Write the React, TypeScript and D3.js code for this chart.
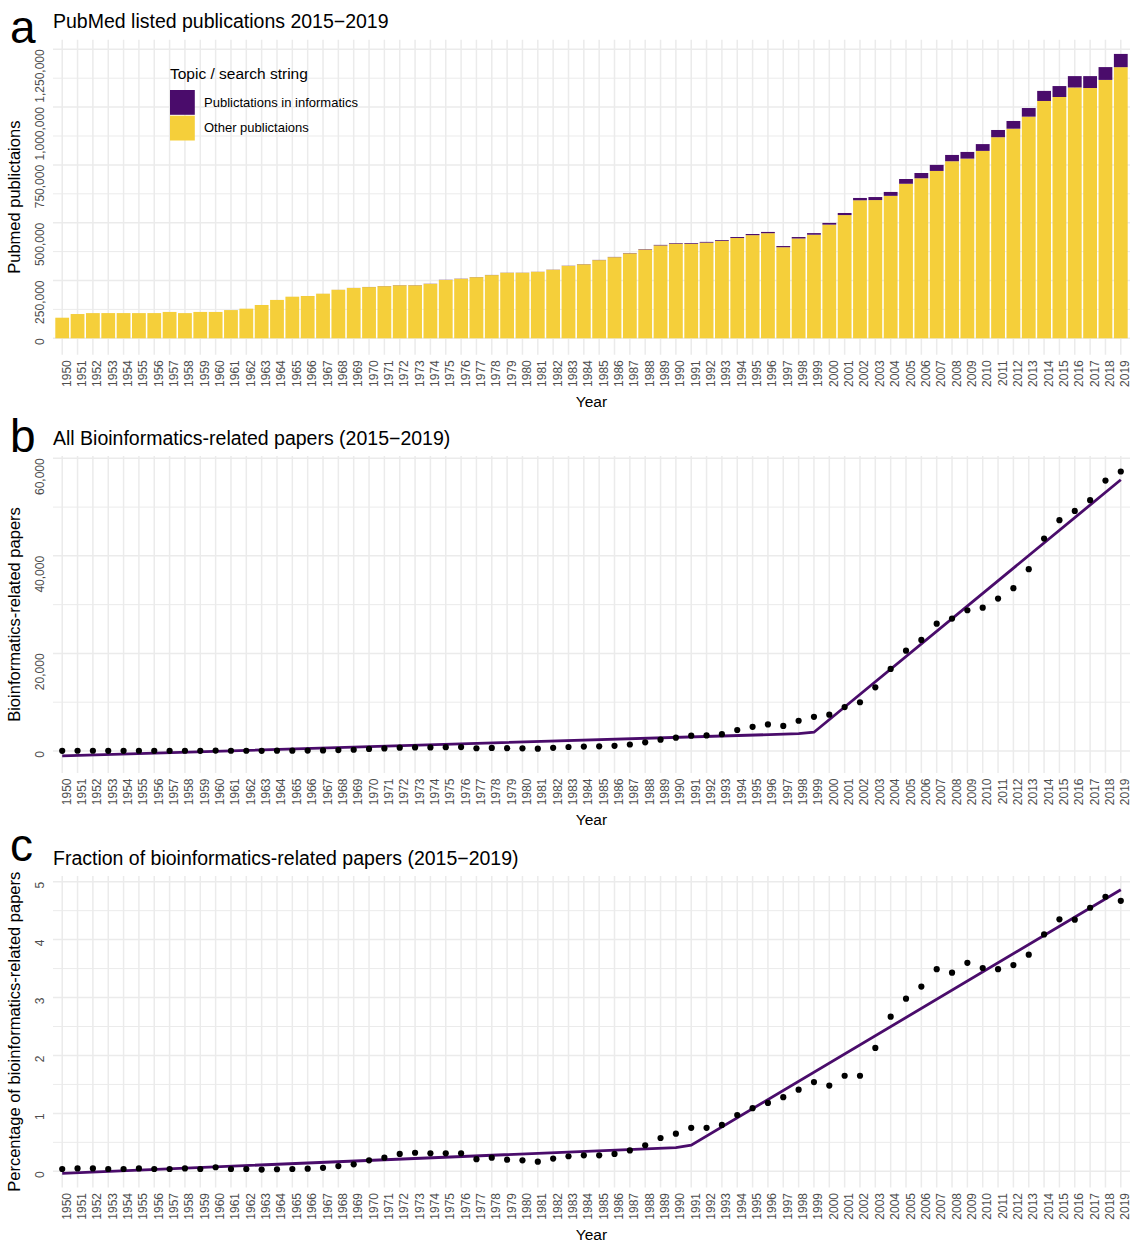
import { useEffect, useRef } from "react";
import * as d3 from "d3";

// years on the x axis (discrete)
const YEARS = [
  1950, 1951, 1952, 1953, 1954, 1955, 1956, 1957, 1958, 1959,
  1960, 1961, 1962, 1963, 1964, 1965, 1966, 1967, 1968, 1969,
  1970, 1971, 1972, 1973, 1974, 1975, 1976, 1977, 1978, 1979,
  1980, 1981, 1982, 1983, 1984, 1985, 1986, 1987, 1988, 1989,
  1990, 1991, 1992, 1993, 1994, 1995, 1996, 1997, 1998, 1999,
  2000, 2001, 2002, 2003, 2004, 2005, 2006, 2007, 2008, 2009,
  2010, 2011, 2012, 2013, 2014, 2015, 2016, 2017, 2018, 2019,
];

// bioinformatics-related papers per year (panel b, also purple part of panel a)
const INFORMATICS = [
  40, 50, 55, 45, 45, 55, 45, 45, 55, 45,
  80, 50, 50, 45, 60, 70, 80, 115, 190, 260,
  420, 530, 690, 740, 730, 780, 800, 560, 640, 570,
  540, 480, 650, 820, 900, 950, 1060, 1330, 1780, 2320,
  2730, 3150, 3200, 3450, 4300, 4950, 5450, 5130, 6200, 7000,
  7450, 9000, 9990, 13060, 16820, 20570, 22770, 26110, 27140, 28850,
  29390, 31240, 33370, 37270, 43540, 47310, 49220, 51420, 55440, 57290,
];

// other PubMed publications per year (yellow part of panel a)
const OTHER = [
  89000, 104900, 108900, 109000, 109000, 108900, 109000, 114000, 108900, 114000,
  113900, 122000, 128000, 144000, 165900, 179900, 182900, 192900, 209800, 217700,
  221600, 225500, 229300, 229300, 235300, 252200, 257200, 264400, 273400, 283400,
  283500, 287500, 296400, 313200, 320100, 338100, 350900, 367700, 384200, 401700,
  409300, 408900, 413800, 421600, 433700, 446100, 454600, 393900, 431800, 448000,
  491600, 533000, 597000, 597900, 616200, 668400, 692200, 723900, 765900, 777200,
  810600, 869800, 906600, 958700, 1026500, 1043700, 1084800, 1082600, 1117600, 1172700,
];

// percentage of bioinformatics-related papers (panel c)
const PERCENT = [
  0.04, 0.05, 0.05, 0.04, 0.04, 0.05, 0.04, 0.04, 0.05, 0.04,
  0.07, 0.04, 0.04, 0.03, 0.035, 0.04, 0.045, 0.06, 0.09, 0.12,
  0.19, 0.235, 0.3, 0.32, 0.31, 0.31, 0.31, 0.21, 0.235, 0.2,
  0.19, 0.166, 0.22, 0.26, 0.275, 0.275, 0.3, 0.36, 0.45, 0.575,
  0.65, 0.75, 0.75, 0.8, 0.97, 1.09, 1.18, 1.28, 1.41, 1.54,
  1.48, 1.65, 1.65, 2.13, 2.67, 2.98, 3.19, 3.49, 3.43, 3.6,
  3.51, 3.49, 3.56, 3.74, 4.09, 4.35, 4.345, 4.55, 4.74, 4.67,
];

// segmented fits (knots)
const FIT_B_YEARS = [1950, 1998, 1999, 2019];
const FIT_B_VALUES = [-1000, 3550, 3850, 55600];
const FIT_C_YEARS = [1950, 1990, 1991, 2019];
const FIT_C_VALUES = [-0.035, 0.41, 0.45, 4.86];

const A_TICKS = [0, 250000, 500000, 750000, 1000000, 1250000];
const A_TICK_LABELS = ["0", "250,000", "500,000", "750,000", "1,000,000", "1,250,000"];
const A_MINOR = [125000, 375000, 625000, 875000, 1125000];
const B_TICKS = [0, 20000, 40000, 60000];
const B_TICK_LABELS = ["0", "20,000", "40,000", "60,000"];
const B_MINOR = [10000, 30000, 50000];
const C_TICKS = [0, 1, 2, 3, 4, 5];
const C_TICK_LABELS = ["0", "1", "2", "3", "4", "5"];
const C_MINOR = [0.5, 1.5, 2.5, 3.5, 4.5];

const LEGEND_LABELS = ["Publictations in informatics", "Other publictaions"];

const FONT = "'Liberation Sans', Arial, Helvetica, sans-serif";
const PURPLE = "#4a0c6b";
const YELLOW = "#f5cf3a";
const GRID = "#ebebeb";
const TICK_COLOR = "#4d4d4d";

export default function App() {
  const svgRef = useRef<SVGSVGElement>(null);

  useEffect(() => {
    if (!svgRef.current) return;
    const svg = d3.select(svgRef.current);
    svg.selectAll("*").remove();

    const width = 1132;
    const height = 1242;
    const left = 53;
    const right = 1130;
    svg.attr("width", width).attr("height", height).attr("viewBox", `0 0 ${width} ${height}`);
    svg.append("rect").attr("width", width).attr("height", height).attr("fill", "#fff");

    const x = d3.scalePoint<number>().domain(YEARS).range([left, right]).padding(0.6);
    const step = x.step();

    function frame(o: {
      top: number;
      bottom: number;
      y: d3.ScaleLinear<number, number>;
      ticks: number[];
      labels: string[];
      minor: number[];
      letter: string;
      letterY: number;
      title: string;
      yTitle: string;
    }) {
      const g = svg.append("g");

      // Grid lines
      g.selectAll("line.minor")
        .data(o.minor)
        .join("line")
        .attr("x1", left)
        .attr("x2", right)
        .attr("y1", (d) => o.y(d))
        .attr("y2", (d) => o.y(d))
        .attr("stroke", GRID)
        .attr("stroke-width", 1);

      g.selectAll("line.major")
        .data(o.ticks)
        .join("line")
        .attr("x1", left)
        .attr("x2", right)
        .attr("y1", (d) => o.y(d))
        .attr("y2", (d) => o.y(d))
        .attr("stroke", GRID)
        .attr("stroke-width", 1.5);

      g.append("g")
        .selectAll("line")
        .data(YEARS)
        .join("line")
        .attr("x1", (d) => x(d)!)
        .attr("x2", (d) => x(d)!)
        .attr("y1", o.top)
        .attr("y2", o.bottom)
        .attr("stroke", GRID)
        .attr("stroke-width", 1.5);

      // Tick labels
      g.append("g")
        .selectAll("text")
        .data(o.ticks)
        .join("text")
        .attr("transform", (d) => `translate(43.5,${o.y(d)}) rotate(-90)`)
        .attr("text-anchor", "end")
        .attr("fill", TICK_COLOR)
        .attr("font-size", "12px")
        .attr("font-family", FONT)
        .text((_, i) => o.labels[i]);

      g.append("g")
        .selectAll("text")
        .data(YEARS)
        .join("text")
        .attr("transform", (d) => `translate(${x(d)! + 8.5},${o.bottom + 5.5}) rotate(-90)`)
        .attr("text-anchor", "end")
        .attr("fill", TICK_COLOR)
        .attr("font-size", "12px")
        .attr("font-family", FONT)
        .text((d) => String(d));

      // Axis titles
      g.append("text")
        .attr("x", (left + right) / 2)
        .attr("y", o.bottom + 52)
        .attr("text-anchor", "middle")
        .attr("font-size", "15.5px")
        .attr("font-family", FONT)
        .text("Year");

      g.append("text")
        .attr("transform", `translate(20,${(o.top + o.bottom) / 2}) rotate(-90)`)
        .attr("text-anchor", "middle")
        .attr("font-size", "16.5px")
        .attr("font-family", FONT)
        .text(o.yTitle);

      // Panel title and tag
      g.append("text")
        .attr("x", left)
        .attr("y", o.top - 11.5)
        .attr("font-size", "19.5px")
        .attr("font-family", FONT)
        .text(o.title);

      g.append("text")
        .attr("x", 10)
        .attr("y", o.letterY)
        .attr("font-size", "46px")
        .attr("font-family", FONT)
        .text(o.letter);
    }

    // ---- panel a: stacked bars
    const yA = d3.scaleLinear().domain([0, 1250000]).range([338.3, 49.3]);
    frame({
      top: 39.7,
      bottom: 354.7,
      y: yA,
      ticks: A_TICKS,
      labels: A_TICK_LABELS,
      minor: A_MINOR,
      letter: "a",
      letterY: 43,
      title: "PubMed listed publications 2015\u22122019",
      yTitle: "Pubmed publictaions",
    });

    const rows = YEARS.map((yr, i) => ({ year: yr, other: OTHER[i], info: INFORMATICS[i] }));
    const stacked = d3.stack<{ year: number; other: number; info: number }>().keys(["other", "info"])(rows);
    const fills = [YELLOW, PURPLE];
    const bw = step * 0.9;

    svg
      .append("g")
      .selectAll("g")
      .data(stacked)
      .join("g")
      .attr("fill", (_, i) => fills[i])
      .selectAll("rect")
      .data((s) => s)
      .join("rect")
      .attr("x", (d) => x(d.data.year)! - bw / 2)
      .attr("width", bw)
      .attr("y", (d) => yA(d[1]))
      .attr("height", (d) => yA(d[0]) - yA(d[1]));

    // Legend
    const lg = svg.append("g").attr("font-family", FONT);
    lg.append("text").attr("x", 170).attr("y", 79).attr("font-size", "15.5px").text("Topic / search string");
    [PURPLE, YELLOW].forEach((c, i) => {
      lg.append("rect")
        .attr("x", 170)
        .attr("y", 90 + i * 25.7)
        .attr("width", 24.8)
        .attr("height", 24.8)
        .attr("fill", c);
      lg.append("text")
        .attr("x", 204)
        .attr("y", 106.5 + i * 25.7)
        .attr("font-size", "13px")
        .text(LEGEND_LABELS[i]);
    });

    // ---- panel b: counts with segmented fit
    const yB = d3.scaleLinear().domain([0, 60000]).range([751, 458.3]);
    frame({
      top: 456,
      bottom: 773,
      y: yB,
      ticks: B_TICKS,
      labels: B_TICK_LABELS,
      minor: B_MINOR,
      letter: "b",
      letterY: 452,
      title: "All Bioinformatics-related papers (2015\u22122019)",
      yTitle: "Bioinformatics-related papers",
    });

    const lineB = d3
      .line<number>()
      .x((d) => x(d)!)
      .y((_, i) => yB(FIT_B_VALUES[i]));
    svg
      .append("path")
      .attr("d", lineB(FIT_B_YEARS))
      .attr("fill", "none")
      .attr("stroke", PURPLE)
      .attr("stroke-width", 2.8);

    svg
      .append("g")
      .selectAll("circle")
      .data(YEARS)
      .join("circle")
      .attr("cx", (d) => x(d)!)
      .attr("cy", (_, i) => yB(INFORMATICS[i]))
      .attr("r", 3.1)
      .attr("fill", "#000");

    // ---- panel c: percentage with segmented fit
    const yC = d3.scaleLinear().domain([0, 5]).range([1171.3, 881.7]);
    frame({
      top: 876,
      bottom: 1187.5,
      y: yC,
      ticks: C_TICKS,
      labels: C_TICK_LABELS,
      minor: C_MINOR,
      letter: "c",
      letterY: 861,
      title: "Fraction of bioinformatics-related papers (2015\u22122019)",
      yTitle: "Percentage of bioinformatics-related papers",
    });

    const lineC = d3
      .line<number>()
      .x((d) => x(d)!)
      .y((_, i) => yC(FIT_C_VALUES[i]));
    svg
      .append("path")
      .attr("d", lineC(FIT_C_YEARS))
      .attr("fill", "none")
      .attr("stroke", PURPLE)
      .attr("stroke-width", 2.8);

    svg
      .append("g")
      .selectAll("circle")
      .data(YEARS)
      .join("circle")
      .attr("cx", (d) => x(d)!)
      .attr("cy", (_, i) => yC(PERCENT[i]))
      .attr("r", 3.1)
      .attr("fill", "#000");
  }, []);

  return <svg ref={svgRef} style={{ position: "absolute", left: 0, top: 0 }} />;
}
